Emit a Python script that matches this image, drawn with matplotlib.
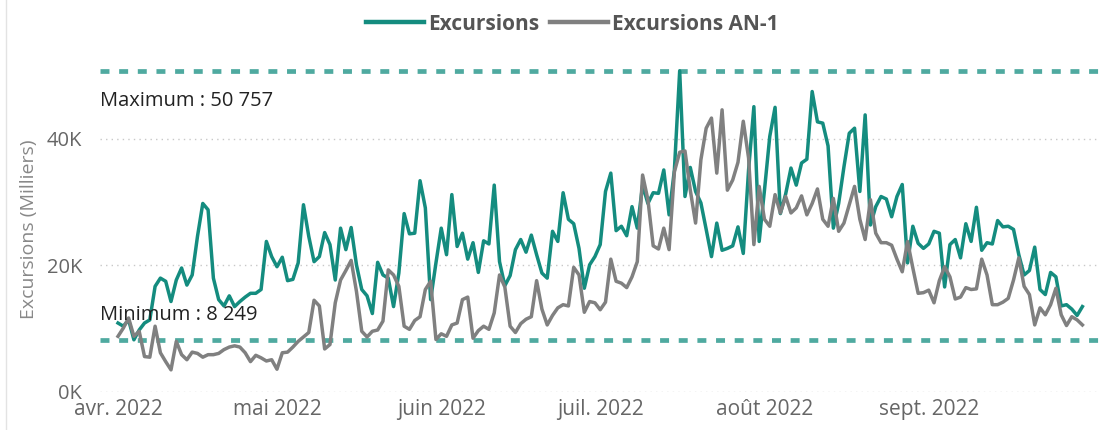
import pandas as pd
import matplotlib.pyplot as plt
from matplotlib.lines import Line2D
from matplotlib.transforms import blended_transform_factory

# daily values in thousands, 1 avr. 2022 -> 30 sept. 2022
excursions = [
    10.9, 10.4, 11.4, 8.249, 9.8, 10.9, 11.4, 16.7, 18.0, 17.5,
    14.3, 17.7, 19.6, 16.9, 18.5, 24.6, 29.8, 28.8, 18.0, 14.6,
    13.6, 15.2, 13.5, 14.3, 15.0, 15.6, 15.6, 16.2, 23.8, 21.4,
    19.8, 21.3, 17.6, 17.8, 20.4, 29.6, 24.6, 20.6, 21.4, 25.2,
    23.3, 17.7, 25.9, 22.5, 26.0, 20.1, 16.2, 15.2, 12.4, 20.5,
    18.5, 18.0, 13.5, 18.8, 28.2, 25.0, 25.1, 33.4, 29.1, 14.6,
    20.4, 25.9, 21.7, 31.2, 23.0, 25.1, 21.0, 23.6, 18.9, 23.9,
    23.4, 32.7, 20.6, 16.8, 18.4, 22.5, 24.1, 22.1, 24.8, 21.7,
    18.8, 18.0, 25.4, 23.8, 31.5, 27.3, 26.6, 22.7, 16.4, 20.1,
    21.4, 23.3, 31.7, 34.6, 25.5, 26.2, 24.7, 29.3, 25.9, 32.7,
    29.8, 31.5, 31.4, 35.1, 28.0, 35.1, 50.757, 30.9, 35.5, 31.7,
    29.9, 25.7, 21.4, 26.7, 22.4, 22.7, 23.1, 26.1, 21.9, 35.1,
    45.1, 23.8, 31.9, 40.4, 45.0, 28.2, 31.3, 35.4, 32.7, 36.2,
    36.8, 47.5, 42.7, 42.5, 38.9, 25.9, 29.8, 35.6, 40.9, 41.7,
    31.7, 43.8, 26.4, 29.3, 30.9, 30.5, 27.7, 30.9, 32.8, 20.4,
    26.2, 23.5, 22.7, 23.4, 25.4, 25.1, 16.6, 23.3, 24.1, 21.2,
    26.6, 23.8, 29.2, 22.4, 23.6, 23.4, 27.1, 26.1, 26.2, 25.7,
    21.7, 18.5, 19.2, 22.9, 16.2, 15.4, 18.9, 18.2, 13.6, 13.8,
    13.1, 12.1, 13.5,
]
excursions_an1 = [
    8.8, 10.1, 11.7, 8.8, 9.6, 5.6, 5.5, 10.4, 6.2, 4.8,
    3.5, 8.0, 5.9, 5.1, 6.3, 6.1, 5.5, 5.9, 5.9, 6.1,
    6.7, 7.1, 7.3, 7.1, 6.2, 4.8, 5.8, 5.4, 4.9, 5.1,
    3.6, 6.2, 6.3, 7.1, 8.0, 8.7, 9.4, 14.5, 13.6, 6.8,
    7.5, 14.1, 17.7, 19.2, 20.8, 15.9, 9.6, 8.7, 9.6, 9.8,
    11.2, 19.3, 18.5, 16.7, 10.4, 9.9, 11.3, 11.9, 16.2, 17.5,
    8.3, 9.2, 8.8, 10.6, 10.9, 14.6, 15.0, 8.5, 9.7, 10.4,
    9.9, 12.5, 18.5, 16.6, 10.4, 9.4, 10.8, 11.5, 11.9, 17.6,
    13.1, 10.6, 12.1, 13.3, 13.8, 13.6, 19.7, 18.5, 12.6, 14.3,
    14.1, 13.0, 14.2, 21.0, 17.5, 17.2, 16.5, 18.2, 20.6, 34.3,
    30.4, 23.1, 22.6, 25.9, 22.5, 34.8, 37.9, 38.1, 31.9, 26.7,
    36.7, 41.7, 43.3, 34.6, 44.6, 31.9, 33.5, 36.3, 42.8, 37.0,
    23.3, 32.5, 27.3, 26.2, 31.2, 28.3, 30.9, 28.3, 29.1, 31.0,
    28.0, 29.8, 32.1, 27.3, 26.2, 30.6, 25.4, 26.7, 29.6, 32.5,
    27.3, 24.1, 30.4, 25.1, 23.6, 23.6, 23.2, 21.0, 19.0, 23.8,
    19.6, 15.6, 15.7, 16.1, 14.1, 17.6, 19.8, 18.2, 14.7, 15.0,
    16.5, 16.2, 16.3, 21.0, 18.5, 13.8, 13.8, 14.2, 14.8, 17.7,
    21.2, 16.7, 15.4, 10.6, 13.3, 12.2, 13.8, 16.4, 12.2, 10.5,
    11.9, 11.4, 10.6,
]
month_starts = ['2022-04-01', '2022-05-01', '2022-06-01', '2022-07-01', '2022-08-01', '2022-09-01']
month_labels = ['avr. 2022', 'mai 2022', 'juin 2022', 'juil. 2022', 'août 2022', 'sept. 2022']
y_ticks = [0, 20000, 40000]
y_labels = ['0K', '20K', '40K']

dates = pd.date_range('2022-04-01', periods=len(excursions), freq='D')
cur = pd.Series(excursions, index=dates) * 1000
prev = pd.Series(excursions_an1, index=dates) * 1000
vmax = cur.max()
vmin = cur.min()

def fr(v):
    return f"{int(round(v)):,}".replace(",", " ")

plt.rcParams['font.family'] = ['Open Sans', 'DejaVu Sans']

fig = plt.figure(figsize=(11.11, 4.30), dpi=100)
ax = fig.add_axes([0.09, 0.0884, 0.90, 0.765])

teal = '#148C7F'
grey = '#808080'
ax.plot(dates, cur, color=teal, lw=2.5, zorder=3)
ax.plot(dates, prev, color=grey, lw=2.5, zorder=4)

ref = '#4FAAA0'
ax.axhline(vmax, color=ref, lw=3.4, linestyle=(0, (1.9, 2.05)), zorder=2)
ax.axhline(vmin, color=ref, lw=3.4, linestyle=(0, (1.9, 2.05)), zorder=2)

tr = blended_transform_factory(ax.transAxes, ax.transData)
ax.text(0.0, 46000, 'Maximum : ' + fr(vmax), transform=tr, fontsize=14.5,
        color='#222222', va='center', ha='left', zorder=6)
ax.text(0.0, 12200, 'Minimum : ' + fr(vmin), transform=tr, fontsize=14.5,
        color='#222222', va='center', ha='left', zorder=6)

ax.set_xlim(dates[0] - pd.Timedelta(days=3.4), dates[0] + pd.Timedelta(days=185.3))
ax.set_ylim(0, 52000)
ax.set_xticks(pd.to_datetime(month_starts))
ax.set_xticklabels(month_labels)
ax.set_yticks(y_ticks)
ax.set_yticklabels(y_labels)
ax.tick_params(axis='both', length=0, labelcolor='#666666')
ax.tick_params(axis='x', pad=5, labelsize=15)
ax.tick_params(axis='y', pad=13, labelsize=14.5)
ax.yaxis.grid(True, color='#C8C8C8', linestyle=(0, (1, 3)), lw=1)
ax.set_axisbelow(True)
for s in ax.spines.values():
    s.set_visible(False)

fig.text(0.026, 0.467, 'Excursions (Milliers)', rotation=90, fontsize=14,
         color='#888888', va='center', ha='center')

handles = [Line2D([], [], color=teal, lw=3.2), Line2D([], [], color=grey, lw=3.2)]
fig.legend(handles, ['Excursions', 'Excursions AN-1'], loc='center',
           bbox_to_anchor=(0.515, 0.944), ncol=2, frameon=False,
           handlelength=2.8, handletextpad=0.2, columnspacing=0.5,
           prop={'weight': 'bold', 'size': 15}, labelcolor='#555555')

fig.add_artist(Line2D([0.005, 0.005], [0, 1], color='#E3E3E3', lw=1))

plt.savefig("out.png")
